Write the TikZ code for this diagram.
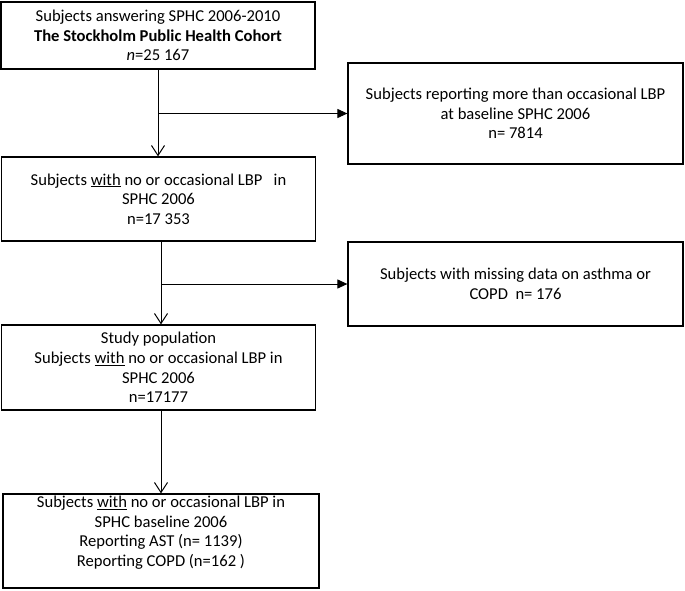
\documentclass[tikz,border=0pt]{standalone}
\usepackage{fontspec}
\setmainfont{Carlito}
\usetikzlibrary{arrows.meta}

\begin{document}
\begin{tikzpicture}[x=1pt,y=-1pt]
	\tikzset{box/.style={draw,line width=1.2pt,rectangle,align=center,inner sep=0pt,font=\fontsize{16.6}{19.6}\selectfont}}
	\tikzset{down/.style={line width=1pt,-{Straight Barb[length=10pt,width=13pt]}}}
	\tikzset{side/.style={line width=1pt,-{Triangle[length=10pt,width=9pt]}}}
	\useasboundingbox (0,0) rectangle (685,590);
	\node[box,minimum width=314pt,minimum height=67pt] (cohort) at (158,35.5)
		{Subjects answering SPHC 2006-2010\\ \textbf{The Stockholm Public Health Cohort}\\ \textit{n}=25 167};
	\node[box,minimum width=335pt,minimum height=101pt] (lbp) at (515.5,113.5)
		{Subjects reporting more than occasional LBP\\ at baseline SPHC 2006\\ n= 7814};
	\node[box,minimum width=314pt,minimum height=84pt] (nolbp) at (158.5,199)
		{Subjects \underline{with} no or occasional LBP\ \ \ in\\ SPHC 2006\\ n=17 353};
	\node[box,minimum width=335pt,minimum height=84pt] (missing) at (515.5,284)
		{Subjects with missing data on asthma or\\ COPD\ \ n= 176};
	\node[box,minimum width=314pt,minimum height=85pt] (study) at (158.5,367.5)
		{Study population\\ Subjects \underline{with} no or occasional LBP in\\ SPHC 2006\\ n=17177};
	\node[box,minimum width=316pt,minimum height=94pt] (report) at (161,541)
		{Subjects \underline{with} no or occasional LBP in\\ SPHC baseline 2006\\ Reporting AST (n= 1139)\\ Reporting COPD (n=162 )\\ \mbox{}};
	% branch points
	\coordinate (b1) at (cohort.south |- lbp.west);
	\coordinate (b2) at ([xshift=2.5pt]nolbp.south |- missing.west);
	\draw[down] (cohort.south) -- (cohort.south |- nolbp.north);
	\draw[side] (b1) -- (lbp.west);
	\draw[down] ([xshift=2.5pt]nolbp.south) -- ([xshift=2.5pt]nolbp.south |- study.north);
	\draw[side] (b2) -- (missing.west);
	\draw[down] ([xshift=2.5pt]study.south) -- ([xshift=2.5pt]study.south |- report.north);
\end{tikzpicture}
\end{document}
